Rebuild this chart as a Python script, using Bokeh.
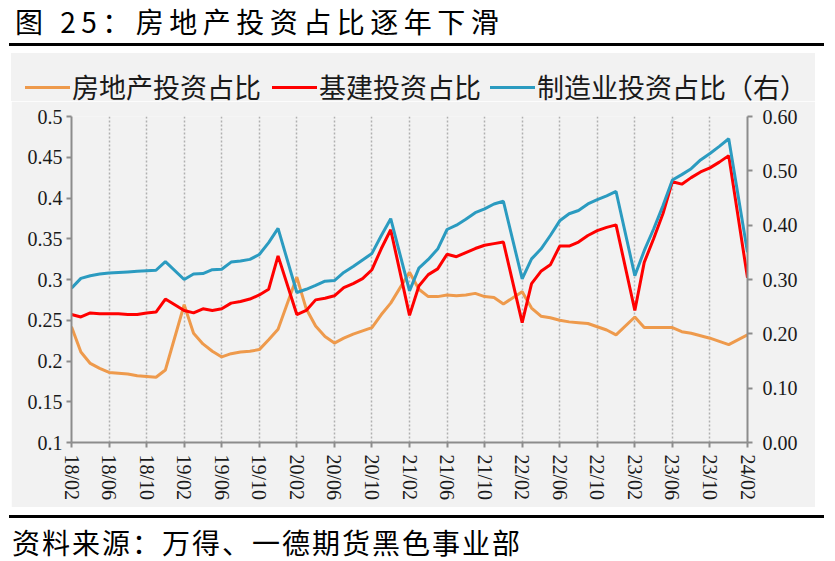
from bokeh.plotting import figure
from bokeh.models import (Range1d, LinearAxis, FixedTicker, ColumnDataSource,
                          PrintfTickFormatter, Div)
from bokeh.layouts import column
from bokeh.embed import file_html
from bokeh.resources import INLINE

# ---------------- data ----------------
# monthly observations (January is not published: Jan-Feb combined)
months = []
for yr in range(2018, 2025):
    for mo in range(2, 13):
        if yr == 2024 and mo > 2:
            break
        months.append(f"{yr}/{mo:02d}")

# 房地产投资占比 (left axis)
realestate = [
    0.242, 0.211, 0.197, 0.191, 0.186, 0.185, 0.184, 0.182, 0.181, 0.180, 0.189,
    0.269, 0.234, 0.221, 0.212, 0.205, 0.209, 0.211, 0.212, 0.214, 0.226, 0.239,
    0.303, 0.264, 0.243, 0.230, 0.222, 0.228, 0.233, 0.237, 0.241, 0.257, 0.271,
    0.309, 0.288, 0.279, 0.279, 0.281, 0.280, 0.281, 0.283, 0.279, 0.278, 0.270,
    0.285, 0.265, 0.255, 0.253, 0.250, 0.248, 0.247, 0.246, 0.242, 0.238, 0.232,
    0.254, 0.241, 0.241, 0.241, 0.241, 0.236, 0.234, 0.231, 0.228, 0.224, 0.220,
    0.232]

# 基建投资占比 (left axis)
infra = [
    0.257, 0.254, 0.259, 0.258, 0.258, 0.258, 0.257, 0.257, 0.259, 0.260, 0.276,
    0.262, 0.259, 0.264, 0.262, 0.264, 0.271, 0.273, 0.276, 0.281, 0.288, 0.329,
    0.257, 0.262, 0.275, 0.277, 0.280, 0.290, 0.295, 0.301, 0.312, 0.338, 0.361,
    0.256, 0.292, 0.306, 0.313, 0.331, 0.328, 0.333, 0.338, 0.342, 0.344, 0.346,
    0.247, 0.295, 0.310, 0.318, 0.341, 0.341, 0.346, 0.354, 0.360, 0.364, 0.367,
    0.262, 0.321, 0.350, 0.381, 0.420, 0.417, 0.425, 0.432, 0.437, 0.444, 0.452,
    0.302]

# 制造业投资占比 (right axis)
manufacturing = [
    0.284, 0.302, 0.307, 0.310, 0.312, 0.313, 0.314, 0.315, 0.316, 0.317, 0.333,
    0.300, 0.310, 0.311, 0.318, 0.319, 0.332, 0.334, 0.337, 0.346, 0.368, 0.394,
    0.276, 0.282, 0.289, 0.297, 0.298, 0.313, 0.324, 0.336, 0.348, 0.381, 0.412,
    0.279, 0.321, 0.337, 0.356, 0.392, 0.400, 0.411, 0.423, 0.430, 0.439, 0.444,
    0.301, 0.338, 0.356, 0.381, 0.408, 0.421, 0.427, 0.439, 0.447, 0.454, 0.462,
    0.307, 0.353, 0.393, 0.436, 0.483, 0.493, 0.504, 0.520, 0.532, 0.545, 0.559,
    0.350]

tick_labels = ["18/02", "18/06", "18/10", "19/02", "19/06", "19/10", "20/02",
               "20/06", "20/10", "21/02", "21/06", "21/10", "22/02", "22/06",
               "22/10", "23/02", "23/06", "23/10", "24/02"]
left_ticks = [0.1, 0.15, 0.2, 0.25, 0.3, 0.35, 0.4, 0.45, 0.5]
right_ticks = [0.0, 0.1, 0.2, 0.3, 0.4, 0.5, 0.6]

title_text = "图 25：房地产投资占比逐年下滑"
source_text = "资料来源：万得、一德期货黑色事业部"
names = ["房地产投资占比", "基建投资占比", "制造业投资占比（右）"]
colors = ["#EE9A4C", "#FF0000", "#2B9BC0"]

# ---------------- helpers ----------------
def month_index(s):
    y, m = s.split("/")
    return (int(y) - 2018) * 12 + (int(m) - 2)

def label_index(s):
    y, m = s.split("/")
    return (int(y) - 18) * 12 + (int(m) - 2)

x = [month_index(s) for s in months]
tick_pos = [label_index(s) for s in tick_labels]

src = ColumnDataSource(dict(x=x, re=realestate, inf=infra, mf=manufacturing))

BG = "#F2F2F2"
AX = "#8C8C8C"
SERIF = "Liberation Serif"
CJK = "Noto Sans CJK SC"

# ---------------- title strip ----------------
title_html = (
    '<div style="position:relative;width:824px;height:53px;">'
    f'<div style="position:absolute;left:15px;top:4px;font-family:\'{CJK}\';'
    'font-size:28px;line-height:34px;letter-spacing:5.5px;color:#000;white-space:nowrap;">'
    f'{title_text}</div>'
    '<div style="position:absolute;left:9px;top:43px;width:815px;height:3px;background:#000;"></div>'
    '</div>')
t = Div(text=title_html, width=824, height=53, margin=0)

# ---------------- legend strip (inside the grey panel) ----------------
leg_x = [14, 261, 479]          # line start, relative to the grey panel
parts = ['<div style="position:relative;width:804px;height:48px;background:%s;">' % BG]
for lx, name, col in zip(leg_x, names, colors):
    parts.append(f'<div style="position:absolute;left:{lx}px;top:33px;width:45px;'
                 f'height:3px;background:{col};"></div>')
    parts.append(f'<div style="position:absolute;left:{lx + 47}px;top:20px;'
                 f'font-family:\'{CJK}\';font-size:27px;line-height:28px;color:#1A1A1A;'
                 f'white-space:nowrap;">{name}</div>')
parts.append('</div>')
lg = Div(text="".join(parts), width=804, height=48, margin=(0, 0, 0, 11))

# ---------------- main chart ----------------
p = figure(width=804, height=406, x_range=Range1d(0, 72), y_range=Range1d(0.1, 0.5),
           output_backend="svg", toolbar_location=None,
           min_border_left=60, min_border_right=68, min_border_top=15, min_border_bottom=65,
           background_fill_color=BG, border_fill_color=BG, outline_line_color=None,
           margin=(0, 0, 0, 11))
p.extra_y_ranges = {"r": Range1d(0, 0.6)}

p.line("x", "re", source=src, line_color=colors[0], line_width=3)
p.line("x", "inf", source=src, line_color=colors[1], line_width=3)
p.line("x", "mf", source=src, line_color=colors[2], line_width=3, y_range_name="r")

xa = p.xaxis[0]
xa.ticker = FixedTicker(ticks=tick_pos)
xa.major_label_overrides = {pos: lab for pos, lab in zip(tick_pos, tick_labels)}
xa.major_label_orientation = "vertical"
xa.minor_tick_line_color = None

ya = p.yaxis[0]
ya.ticker = FixedTicker(ticks=left_ticks)
ya.formatter = PrintfTickFormatter(format="%g")
ya.minor_tick_line_color = None

ra = LinearAxis(y_range_name="r", ticker=FixedTicker(ticks=right_ticks),
                formatter=PrintfTickFormatter(format="%.2f"))
ra.minor_tick_line_color = None
p.add_layout(ra, "right")

for ax, standoff in ((xa, 7), (ya, 4), (ra, 10)):
    ax.axis_line_color = AX
    ax.axis_line_width = 2
    ax.major_tick_line_color = AX
    ax.major_tick_line_width = 2
    ax.major_tick_in = 0
    ax.major_tick_out = 5
    ax.major_label_text_font = SERIF
    ax.major_label_text_font_size = "20px"
    ax.major_label_text_color = "#1A1A1A"
    ax.major_label_standoff = standoff

p.ygrid.visible = False
p.xgrid.ticker = FixedTicker(ticks=tick_pos)
p.xgrid.grid_line_color = "#B0B0B0"
p.xgrid.grid_line_dash = "2 2"
p.xgrid.grid_line_width = 1.5

# ---------------- source strip ----------------
src_html = (
    '<div style="position:relative;width:824px;height:53px;">'
    '<div style="position:absolute;left:9px;top:8px;width:815px;height:3px;background:#000;"></div>'
    f'<div style="position:absolute;left:12px;top:18px;font-family:\'{CJK}\';'
    'font-size:28px;line-height:34px;letter-spacing:2px;color:#000;white-space:nowrap;">'
    f'{source_text}</div>'
    '</div>')
f = Div(text=src_html, width=824, height=53, margin=0)

layout = column(t, lg, p, f, spacing=0)
open("out.html", "w").write(file_html(layout, INLINE))
